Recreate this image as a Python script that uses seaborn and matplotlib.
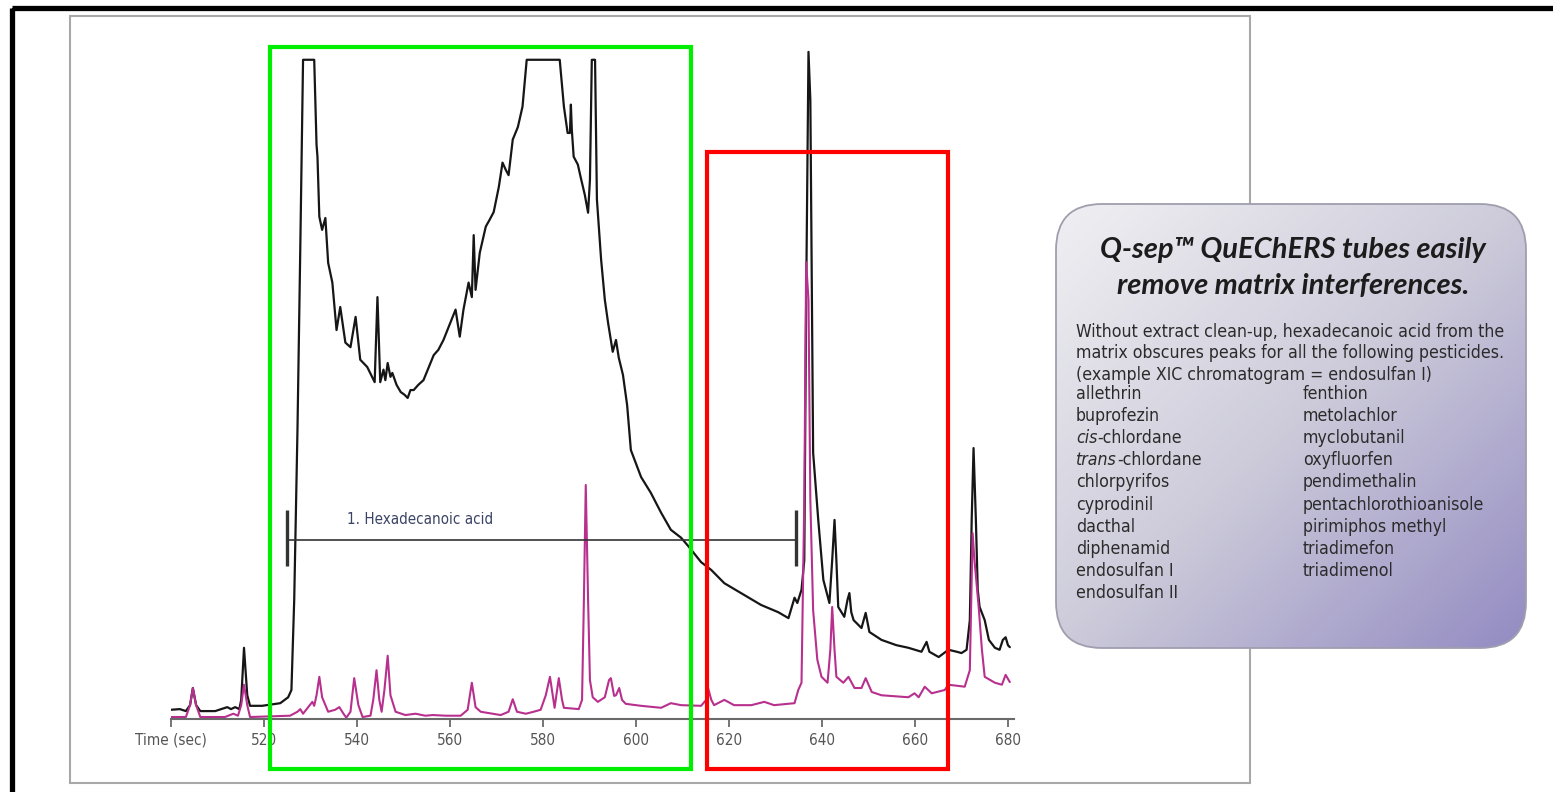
import os
import numpy as np
import pandas as pd
import seaborn as sns
import matplotlib.pyplot as plt
from matplotlib import font_manager as fm
from matplotlib.patches import Rectangle, FancyBboxPatch
from matplotlib.colors import LinearSegmentedColormap

# --- chromatogram traces (time in sec, signal in % of detector range) ---
black_time = [
    500.0, 501.9, 503.2, 504.1, 504.7, 505.4, 506.3, 509.5, 512.1, 512.9,
    513.8, 514.7, 515.1, 515.7, 516.4, 517.0, 519.6, 523.5, 525.2, 525.9,
    526.5, 527.2, 527.8, 528.4, 530.8, 531.3, 531.5, 531.9, 532.5, 533.2,
    533.8, 534.7, 535.6, 536.4, 537.5, 538.6, 539.7, 540.7, 542.2, 543.8,
    544.4, 545.0, 545.7, 546.1, 546.6, 547.2, 547.6, 548.5, 549.4, 550.2,
    550.9, 551.5, 552.2, 553.2, 554.3, 555.4, 556.5, 557.5, 558.6, 559.9,
    561.2, 562.1, 562.9, 564.0, 564.7, 565.1, 565.5, 566.4, 567.7, 568.5,
    569.4, 570.5, 571.3, 572.0, 572.6, 573.5, 574.6, 575.6, 576.5, 583.6,
    584.5, 585.3, 585.8, 586.0, 586.2, 586.6, 587.5, 588.1, 589.0, 589.7,
    590.1, 590.5, 591.2, 591.6, 592.5, 593.3, 594.0, 594.6, 595.0, 595.7,
    596.3, 597.2, 598.1, 598.9, 601.1, 603.2, 605.4, 607.5, 609.7, 611.4,
    614.0, 616.2, 619.0, 622.6, 626.9, 630.6, 632.8, 634.1, 634.7, 635.6,
    636.2, 636.6, 637.1, 637.5, 638.1, 639.2, 640.3, 641.6, 642.2, 642.7,
    643.1, 643.5, 644.8, 645.5, 645.9, 646.3, 646.8, 648.5, 649.4, 650.2,
    652.8, 656.0, 658.6, 661.4, 662.5, 663.1, 665.1, 667.2, 669.0, 670.0,
    671.1, 671.8, 672.2, 672.6, 673.1, 673.5, 673.9, 675.0, 675.9, 677.2,
    678.2, 678.9, 679.5, 680.0, 680.4,
]
black_signal = [
    1.4, 1.5, 1.2, 2.1, 4.7, 2.1, 1.2, 1.2, 1.8, 1.5,
    1.8, 1.5, 2.9, 10.8, 3.6, 2.0, 2.0, 2.4, 3.3, 4.4,
    18.1, 43.9, 71.2, 100, 100, 87.1, 85.3, 76.2, 74.2, 76.0,
    69.2, 66.2, 59.0, 62.5, 57.1, 56.4, 61.0, 54.5, 53.4, 51.1,
    64.0, 51.1, 53.0, 51.4, 54.0, 51.9, 52.5, 50.7, 49.6, 49.2,
    48.7, 49.9, 49.9, 50.7, 51.4, 53.3, 55.2, 56.0, 57.5, 59.8,
    62.1, 58.0, 62.1, 66.2, 64.0, 73.4, 65.1, 70.7, 74.7, 75.7,
    76.9, 80.7, 84.4, 83.3, 82.5, 87.9, 89.8, 92.9, 100, 100,
    92.9, 88.9, 88.9, 93.2, 89.4, 85.3, 84.1, 82.2, 79.5, 76.8,
    81.8, 100, 100, 78.8, 69.7, 63.6, 60.1, 57.5, 55.7, 57.5,
    54.8, 52.2, 47.6, 40.8, 36.7, 34.3, 31.3, 28.7, 27.5, 26.1,
    23.8, 22.6, 20.6, 19.1, 17.3, 16.2, 15.3, 18.4, 17.6, 19.6,
    24.1, 63.6, 101.2, 93.9, 40.4, 30.2, 21.1, 17.6, 24.1, 30.2,
    24.1, 17.0, 15.5, 18.1, 19.1, 16.2, 15.0, 13.8, 16.1, 13.2,
    12.0, 11.2, 10.8, 10.2, 11.7, 10.2, 9.4, 10.5, 10.2, 10.0,
    10.5, 15.0, 30.2, 41.1, 30.2, 19.6, 17.0, 15.0, 12.0, 10.8,
    10.5, 12.0, 12.4, 11.2, 10.9,
]
magenta_time = [
    500.0, 503.2, 504.1, 504.7, 505.4, 506.3, 511.6, 513.4, 514.4, 515.1,
    515.7, 516.4, 517.0, 525.6, 527.2, 527.8, 528.4, 529.5, 530.4, 530.8,
    531.3, 531.9, 532.5, 533.8, 535.3, 536.2, 537.1, 537.7, 538.6, 539.4,
    540.3, 541.2, 542.9, 543.5, 544.2, 544.8, 545.3, 545.9, 546.6, 547.2,
    548.3, 550.4, 552.6, 554.7, 556.3, 559.1, 562.3, 563.8, 564.7, 565.5,
    566.6, 570.9, 572.6, 573.5, 574.4, 576.3, 578.0, 579.5, 580.6, 581.5,
    582.1, 582.5, 583.4, 584.1, 584.5, 587.7, 588.4, 588.8, 589.2, 589.7,
    590.1, 590.7, 591.8, 593.3, 594.2, 594.6, 595.3, 595.7, 596.4, 597.0,
    597.8, 601.1, 605.4, 607.5, 609.7, 614.0, 615.1, 615.5, 616.2, 616.8,
    619.0, 621.1, 624.8, 627.6, 629.7, 634.1, 634.9, 635.6, 636.2, 636.6,
    637.1, 637.5, 638.1, 639.0, 639.9, 641.2, 641.8, 642.2, 642.7, 643.1,
    644.6, 645.7, 647.0, 648.5, 649.4, 650.7, 652.8, 658.6, 659.9, 660.8,
    662.1, 663.6, 666.4, 667.2, 670.7, 671.8, 672.2, 672.4, 672.8, 673.7,
    674.4, 675.0, 677.2, 678.7, 679.5, 680.4,
]
magenta_signal = [
    0.3, 0.3, 2.1, 4.7, 2.1, 0.3, 0.3, 0.8, 0.5, 2.1,
    5.2, 2.1, 0.3, 0.5, 1.1, 1.5, 0.8, 1.8, 2.6, 2.0,
    3.6, 6.4, 3.3, 1.1, 1.4, 1.8, 0.8, 0.2, 1.1, 6.2,
    2.1, 0.3, 0.5, 2.9, 7.4, 2.9, 1.1, 4.4, 9.6, 3.6,
    1.1, 0.6, 0.8, 0.5, 0.6, 0.5, 0.5, 1.4, 5.5, 1.8,
    1.1, 0.6, 1.1, 3.0, 1.1, 0.8, 1.1, 1.4, 3.6, 6.4,
    3.6, 1.7, 6.2, 2.9, 1.7, 1.5, 2.9, 18.1, 35.5, 18.1,
    5.9, 3.3, 2.6, 3.3, 5.9, 6.2, 3.5, 3.6, 4.7, 2.9,
    2.3, 2.0, 1.7, 2.4, 2.1, 2.0, 2.9, 4.7, 2.9, 2.1,
    2.9, 2.1, 2.1, 2.6, 2.1, 2.4, 4.4, 5.5, 33.2, 69.3,
    63.6, 33.2, 16.5, 9.0, 6.4, 5.5, 10.5, 17.0, 10.5, 6.4,
    5.5, 6.4, 4.7, 4.7, 6.2, 4.1, 3.6, 3.3, 3.9, 3.3,
    4.9, 3.9, 4.4, 5.2, 4.9, 7.4, 21.1, 28.2, 24.1, 17.0,
    10.5, 6.4, 5.5, 5.2, 6.7, 5.6,
]

tick_pos = [500, 520, 540, 560, 580, 600, 620, 640, 660, 680]
tick_labels = ['Time (sec)', '520', '540', '560', '580', '600', '620', '640', '660', '680']

hexa_label = '1. Hexadecanoic acid'
hexa_start, hexa_end = 525.0, 634.5

title_lines = ['Q-sep\u2122 QuEChERS tubes easily', 'remove matrix interferences.']
intro_lines = ['Without extract clean-up, hexadecanoic acid from the',
               'matrix obscures peaks for all the following pesticides.',
               '(example XIC chromatogram = endosulfan I)']
pesticides_left = ['allethrin', 'buprofezin', 'cis-chlordane', 'trans-chlordane', 'chlorpyrifos',
                   'cyprodinil', 'dacthal', 'diphenamid', 'endosulfan I', 'endosulfan II']
pesticides_right = ['fenthion', 'metolachlor', 'myclobutanil', 'oxyfluorfen', 'pendimethalin',
                    'pentachlorothioanisole', 'pirimiphos methyl', 'triadimefon', 'triadimenol']
italic_prefix = {'cis-chlordane': 'cis', 'trans-chlordane': 'trans'}

sns.set_theme(style='white')
plt.rcParams['font.family'] = ['Liberation Sans', 'DejaVu Sans']


# look for a narrow sans file; fall back to Liberation Sans
def narrow_file(italic):
    for key in ['liberationsansnarrow', 'dejavusanscondensed']:
        for f in fm.fontManager.ttflist:
            fn = os.path.basename(f.fname).lower().replace('-', '').replace('_', '')
            slanted = 'italic' in fn or 'oblique' in fn
            if fn.startswith(key) and slanted == italic and 'bold' not in fn:
                return f.fname
    return None


reg_file, ita_file = narrow_file(False), narrow_file(True)


def font(size, italic=False):
    path = ita_file if italic else reg_file
    if path:
        return fm.FontProperties(fname=path, size=size)
    return fm.FontProperties(family='Liberation Sans', style='italic' if italic else 'normal', size=size)


W, H = 1553, 792
fig = plt.figure(figsize=(W / 100, H / 100), dpi=100)
fig.patch.set_facecolor('white')

ax = fig.add_axes([171 / W, 1 - 719 / H, 843 / W, (719 - 40) / H])
black_df = pd.DataFrame({'time': black_time, 'signal': black_signal})
magenta_df = pd.DataFrame({'time': magenta_time, 'signal': magenta_signal})
sns.lineplot(data=black_df, x='time', y='signal', color='#161616', lw=1.6,
             sort=False, estimator=None, ax=ax)
sns.lineplot(data=magenta_df, x='time', y='signal', color='#b8308e', lw=1.5,
             sort=False, estimator=None, ax=ax)

ax.hlines(27.2, hexa_start, hexa_end, color='#333333', lw=1.2)
ax.vlines([hexa_start, hexa_end], 23.2, 31.7, color='#333333', lw=2.4)
ax.text(537.9, 30.3, hexa_label, ha='left', va='center', fontproperties=font(10.9), color='#3b4466')

ax.set_xlim(500, 681.3)
ax.set_ylim(0, 103)
ax.set_xticks(tick_pos)
ax.set_xticklabels(tick_labels, fontproperties=font(11))
ax.set_yticks([])
ax.set_xlabel('')
ax.set_ylabel('')
ax.set_facecolor('none')
sns.despine(ax=ax, left=True)
ax.spines['bottom'].set_color('#6a6a6a')
ax.spines['bottom'].set_linewidth(1.5)
ax.tick_params(axis='x', bottom=True, direction='out', length=6, width=1.3, color='#6a6a6a',
               labelcolor='#555555', pad=4)

# overlay in pixel coordinates
ov = fig.add_axes([0, 0, 1, 1], zorder=5)
ov.axis('off')
ov.add_patch(Rectangle((11.5, 7.5), W, H, fill=False, ec='black', lw=3.8))
ov.add_patch(Rectangle((70, 16), 1180, 767, fill=False, ec='#a8a8a8', lw=1.5))
ov.add_patch(Rectangle((270, 47), 421, 722, fill=False, ec='#00ee00', lw=3))
ov.add_patch(Rectangle((707, 152), 241, 617, fill=False, ec='#ff0000', lw=3))

box = FancyBboxPatch((1056, 204), 470, 444, boxstyle='round,pad=0,rounding_size=46',
                     fc='none', ec='#9f9eae', lw=1.3, zorder=3)
ov.add_patch(box)
cmap = LinearSegmentedColormap.from_list('panel', ['#f0f0f3', '#cdcbda', '#938bc2'])
g = np.linspace(0, 1, 256)
grad = g[None, :] * 0.5 + g[:, None] * 0.5
im = ov.imshow(grad, cmap=cmap, extent=(1056, 1526, 648, 204), origin='upper',
               aspect='auto', zorder=2)
im.set_clip_path(box)
ov.set_xlim(0, W)
ov.set_ylim(H, 0)

title_font = ['Lato', 'DejaVu Sans']
for y, line in zip([250, 286], title_lines):
    ov.text(1293, y, line, ha='center', va='center', fontsize=21, fontweight='bold',
            fontstyle='italic', family=title_font, color='#1c1c1c', zorder=4)

body = font(12.7)
body_it = font(12.7, italic=True)
for y, line in zip([332, 353, 375], intro_lines):
    ov.text(1076, y, line, ha='left', va='center', fontproperties=body, color='#2b2b2b', zorder=4)

row_y = [394 + 22.1 * i for i in range(10)]
for y, name in zip(row_y, pesticides_left):
    if name in italic_prefix:
        pre = italic_prefix[name]
        t = ov.text(1076, y, pre, ha='left', va='center', fontproperties=body_it,
                    color='#2b2b2b', zorder=4)
        ov.annotate(name[len(pre):], xy=(1, 0.5), xycoords=t, ha='left', va='center',
                    fontproperties=body, color='#2b2b2b', zorder=4)
    else:
        ov.text(1076, y, name, ha='left', va='center', fontproperties=body, color='#2b2b2b', zorder=4)
for y, name in zip(row_y, pesticides_right):
    ov.text(1303, y, name, ha='left', va='center', fontproperties=body, color='#2b2b2b', zorder=4)

fig.savefig('out.png', dpi=100)
